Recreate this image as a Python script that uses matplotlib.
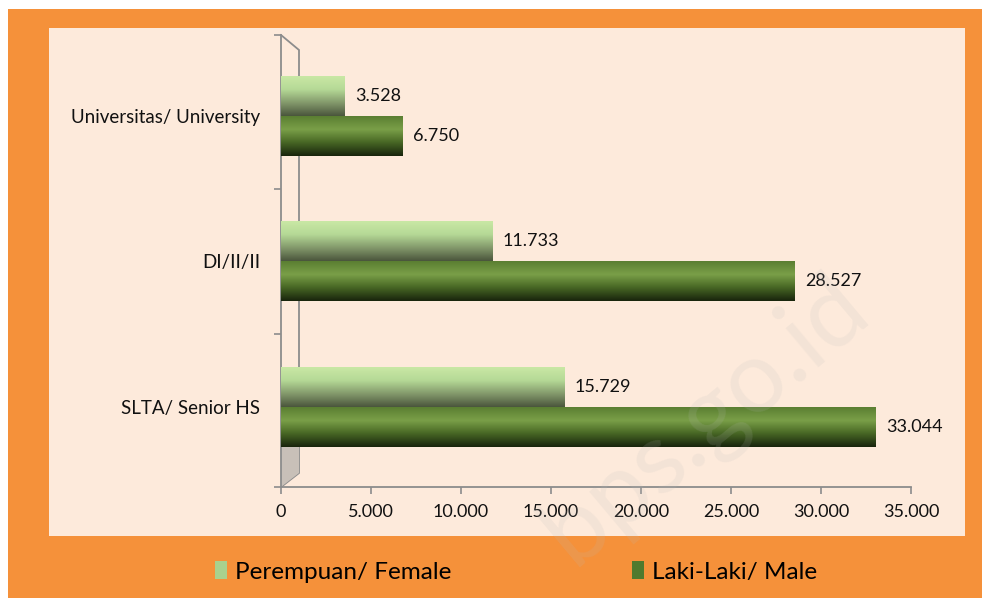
import numpy as np
import matplotlib
matplotlib.use("Agg")
import matplotlib.pyplot as plt
from matplotlib.patches import Rectangle, Patch
from matplotlib.colors import LinearSegmentedColormap

plt.rcParams['font.family'] = ['Lato', 'DejaVu Sans']

categories = ["SLTA/ Senior HS", "DI/II/II", "Universitas/ University"]
female = [15729, 11733, 3528]
male = [33044, 28527, 6750]
female_labels = ["15.729", "11.733", "3.528"]
male_labels = ["33.044", "28.527", "6.750"]
xticks = [0, 5000, 10000, 15000, 20000, 25000, 30000, 35000]
xtick_labels = ["0", "5.000", "10.000", "15.000", "20.000", "25.000", "30.000", "35.000"]
series_names = ["Perempuan/ Female", "Laki-Laki/ Male"]

W, H = 986, 598
fig = plt.figure(figsize=(W / 100, H / 100), dpi=100)
fig.patch.set_facecolor("white")

def fx(px):
    return px / W

def fy(py):
    return 1 - py / H

ORANGE = "#F5913A"
PANEL = "#FDEADB"
# orange frame
fig.patches.append(Rectangle((fx(8), 0), fx(982 - 8), fy(9), transform=fig.transFigure,
                             facecolor=ORANGE, edgecolor="none", zorder=0))
# light panel
fig.patches.append(Rectangle((fx(49), fy(536)), fx(965 - 49), (536 - 28) / H,
                             transform=fig.transFigure, facecolor=PANEL,
                             edgecolor="none", zorder=0.5))

ax = fig.add_axes([fx(281), fy(487), fx(911 - 281), (487 - 35) / H])
ax.set_zorder(2)
ax.set_facecolor("none")

y = np.arange(len(categories))
h = 0.275
ylo, yhi = -0.55, 2.555
ax.set_xlim(0, 35000)
ax.set_ylim(ylo, yhi)

fem_cmap = LinearSegmentedColormap.from_list(
    "fem", [(0.0, "#cbe9a6"), (0.35, "#b5d996"), (0.7, "#7f9468"), (1.0, "#4a553c")])
male_cmap = LinearSegmentedColormap.from_list(
    "male", [(0.0, "#587c30"), (0.35, "#7a9f48"), (0.65, "#4a6a26"), (1.0, "#18240c")])

bars_f = ax.barh(y + h / 2, female, height=h, color="#b5d996", edgecolor="none", zorder=2)
bars_m = ax.barh(y - h / 2, male, height=h, color="#5a7e32", edgecolor="none", zorder=2)

grad = np.linspace(0, 1, 256).reshape(-1, 1)
for bars, cmap in ((bars_f, fem_cmap), (bars_m, male_cmap)):
    for p in bars:
        x0, y0 = p.get_x(), p.get_y()
        w, hh = p.get_width(), p.get_height()
        im = ax.imshow(grad, cmap=cmap, aspect="auto", origin="upper",
                       extent=(x0, x0 + w, y0, y0 + hh), zorder=3, interpolation="bilinear")
        im.set_clip_path(p)

ax.set_xlim(0, 35000)
ax.set_ylim(ylo, yhi)

FS = 13
for b, lab in zip(bars_f, female_labels):
    ax.text(b.get_width() + 600, b.get_y() + b.get_height() / 2, lab,
            va="center", ha="left", fontsize=FS, color="#111111", zorder=4)
for b, lab in zip(bars_m, male_labels):
    ax.text(b.get_width() + 600, b.get_y() + b.get_height() / 2, lab,
            va="center", ha="left", fontsize=FS, color="#111111", zorder=4)

# axes styling
GREY = "#8c8c8c"
for s in ("top", "right"):
    ax.spines[s].set_visible(False)
for s in ("left", "bottom"):
    ax.spines[s].set_color(GREY)
    ax.spines[s].set_linewidth(1.3)

ax.set_xticks(xticks)
ax.set_xticklabels(xtick_labels, fontsize=FS, color="#111111")
ax.tick_params(axis="x", direction="out", length=5, color=GREY, width=1.2, pad=7)
ax.set_yticks(y)
ax.set_yticklabels(categories, fontsize=13.5, color="#111111")
ax.tick_params(axis="y", which="major", length=0, pad=15)
ax.set_yticks([ylo, 0.5, 1.5, yhi], minor=True)
ax.tick_params(axis="y", which="minor", direction="out", length=5, color=GREY, width=1.2)

# 3D back wall outline
dx = 1000
dtop = 0.103
dbot = 0.096
ax.plot([0, dx, dx, 0], [yhi, yhi - dtop, ylo + dbot, ylo], color=GREY, lw=1.3,
        zorder=1, clip_on=False, solid_joinstyle="miter")
ax.fill([0, dx, dx, 0], [ylo + 0.38, ylo + 0.38, ylo + dbot, ylo], color="#c8c0b8", zorder=1,
        lw=0)

# legend
handles = [Patch(facecolor="#a9d18e", edgecolor="none"),
           Patch(facecolor="#4f7a2e", edgecolor="none")]
fig.legend(handles, series_names, loc="center", bbox_to_anchor=(fx(516), fy(572)),
           ncol=2, frameon=False, fontsize=17.5, handlelength=0.5, handleheight=0.75,
           handletextpad=0.33, columnspacing=7.4)

# watermark
fig.text(fx(705), fy(420), "bps.go.id", rotation=40, fontsize=72, color="#bbbbbb",
         alpha=0.15, ha="center", va="center", zorder=5)

fig.savefig("out.png", dpi=100, facecolor=fig.get_facecolor())
